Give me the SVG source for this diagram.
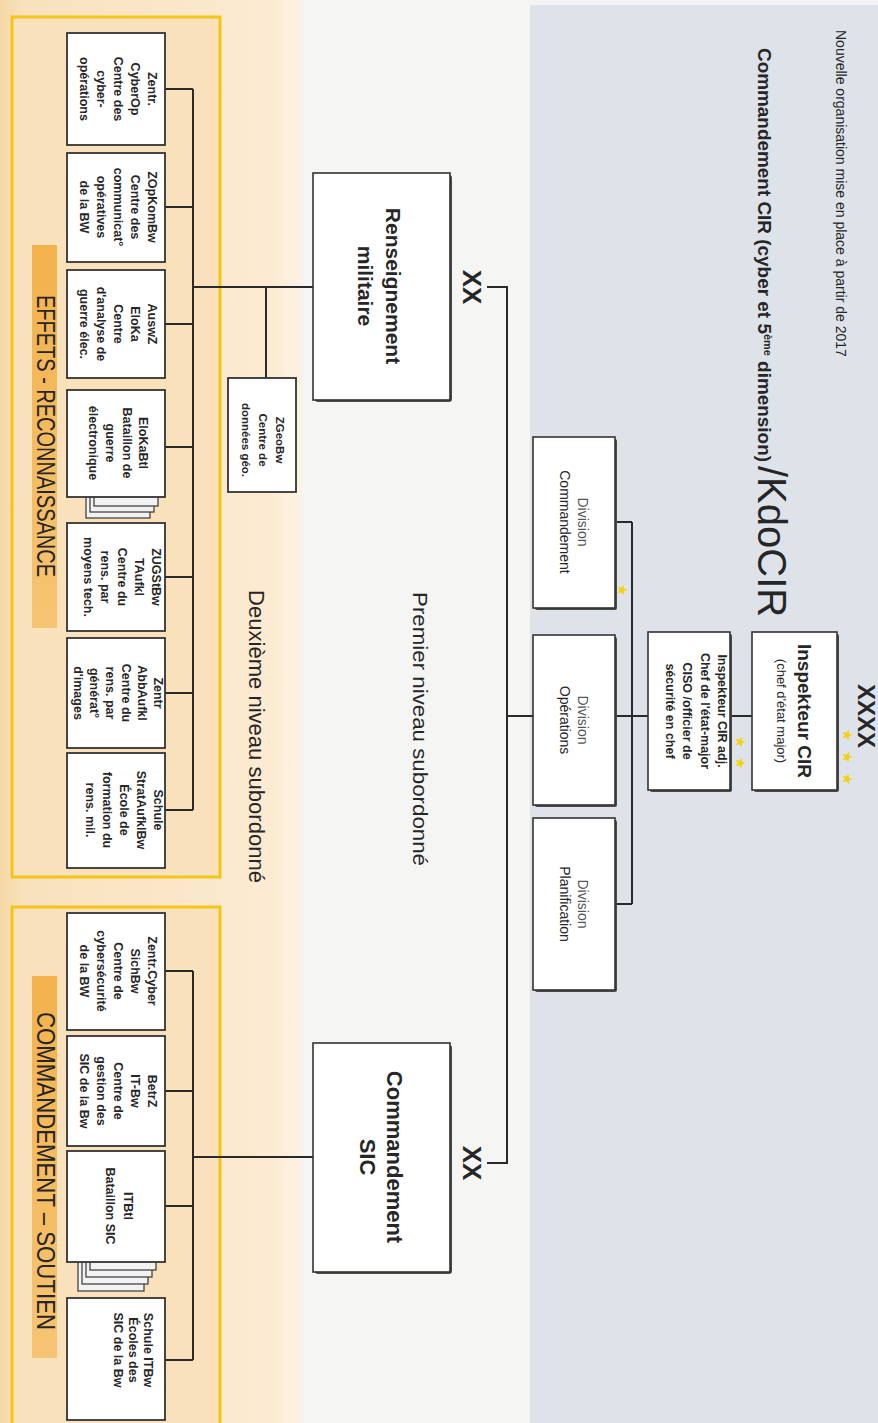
<svg xmlns="http://www.w3.org/2000/svg" width="878" height="1423" viewBox="0 0 878 1423">
<defs>
<linearGradient id="beige" x1="0" y1="0" x2="1" y2="0">
<stop offset="0" stop-color="#f5d8a6"/>
<stop offset="0.08" stop-color="#f8e1bc"/>
<stop offset="0.9" stop-color="#fcebd2"/>
<stop offset="1" stop-color="#fbf2e6"/>
</linearGradient>
<linearGradient id="orange" x1="0" y1="0" x2="0" y2="1">
<stop offset="0" stop-color="#f3b24c"/>
<stop offset="1" stop-color="#f6c473"/>
</linearGradient>
<path id="star" d="M0,-5.5 L1.35,-1.86 L5.23,-1.7 L2.19,0.71 L3.23,4.45 L0,2.3 L-3.23,4.45 L-2.19,0.71 L-5.23,-1.7 L-1.35,-1.86 Z"/>
<style>
.t{font-family:"Liberation Sans",Arial,sans-serif;fill:#262626}
.sm{font-size:12.5px;font-weight:bold}
.b{font-weight:bold}
.card{fill:#ffffff;stroke:#333;stroke-width:1.8}
.shd{fill:#4a4a4a}
.stack{fill:#f2f2f2;stroke:#444;stroke-width:1.3}
.box{fill:#ffffff;stroke:#333;stroke-width:1.6}
.ybox{fill:#f8e1bb;stroke:#f4c417;stroke-width:3}
.bar{fill:url(#orange)}
.con{fill:none;stroke:#2a2a2a;stroke-width:2}
.star{fill:#f7cf0a}
</style>
</defs>

<!-- background bands -->
<rect x="0" y="0" width="302" height="1423" fill="url(#beige)"/>
<rect x="302" y="0" width="228" height="1423" fill="#f5f5f4"/>
<rect x="530" y="0" width="348" height="1423" fill="#dee3e9"/>
<rect x="530" y="0" width="348" height="5" fill="#f3f4f6"/>

<!-- section frames -->
<g id="section-effets">
<rect class="ybox" x="12" y="17" width="208" height="860"/>
<rect class="bar" x="32" y="245" width="25" height="383"/>
<text class="t" font-size="26" transform="translate(37,436) rotate(90)" text-anchor="middle" textLength="282" lengthAdjust="spacingAndGlyphs" fill="#333">EFFETS - RECONNAISSANCE</text>
</g>
<g id="section-soutien">
<rect class="ybox" x="12" y="907" width="208" height="540"/>
<rect class="bar" x="32" y="976" width="25" height="382"/>
<text class="t" font-size="26" transform="translate(37,1171) rotate(90)" text-anchor="middle" textLength="318" lengthAdjust="spacingAndGlyphs" fill="#333">COMMANDEMENT – SOUTIEN</text>
</g>

<!-- level labels -->
<text id="lbl-deuxieme" class="t" font-size="22" transform="translate(249,590) rotate(90)" textLength="293" lengthAdjust="spacingAndGlyphs" fill="#333">Deuxième niveau subordonné</text>
<text id="lbl-premier" class="t" font-size="20" transform="translate(413,592) rotate(90)" textLength="274" lengthAdjust="spacingAndGlyphs" fill="#444">Premier niveau subordonné</text>

<!-- titles -->
<text id="note" class="t" font-size="14" fill="#8e8e8e" transform="translate(836,30) rotate(90)">Nouvelle organisation mise en place à partir de 2017</text>
<g id="title">
<text class="t b" font-size="19" fill="#1e1e1e" transform="translate(758,48) rotate(90)" textLength="414" lengthAdjust="spacingAndGlyphs">Commandement CIR (cyber et 5<tspan font-size="11" baseline-shift="super">ème</tspan> dimension)</text>
<text class="t" font-size="40" fill="#1e1e1e" transform="translate(758,466) rotate(90)">/KdoCIR</text>
</g>

<!-- connectors -->
<g id="connectors" class="con">
<path d="M165,89 H193 M165,207 H193 M165,324 H193 M165,447 H193 M165,577 H193 M165,693 H193 M165,810 H193 M193,89 V810 M193,287 H313 M266,287 V378"/>
<path d="M165,971 H193 M165,1091 H193 M165,1206 H193 M165,1360 H193 M193,971 V1360 M193,1157 H313"/>
<path d="M487,287 H507 V1163 H487 M507,716 H533"/>
<path d="M615,522 H632 M615,904 H632 M632,522 V904 M615,716 H648 M730,716 H752"/>
</g>

<!-- upper second-level cards -->
<g id="n-cyberop">
<rect class="card" x="67" y="33" width="98" height="112"/>
<text class="t sm" transform="translate(116,89) rotate(90)" text-anchor="middle"><tspan x="0" y="-31.5">Zentr.</tspan><tspan x="0" y="-14.5">CyberOp</tspan><tspan x="0" y="2.5">Centre des</tspan><tspan x="0" y="19.5">cyber-</tspan><tspan x="0" y="36.5">opérations</tspan></text>
</g>
<g id="n-zopkom">
<rect class="card" x="67" y="153" width="98" height="109"/>
<text class="t sm" transform="translate(116,207) rotate(90)" text-anchor="middle"><tspan x="0" y="-31.5">ZOpKomBw</tspan><tspan x="0" y="-14.5">Centre des</tspan><tspan x="0" y="2.5">communicat°</tspan><tspan x="0" y="19.5">opératives</tspan><tspan x="0" y="36.5">de la BW</tspan></text>
</g>
<g id="n-auswz">
<rect class="card" x="67" y="270" width="98" height="108"/>
<text class="t sm" transform="translate(116,324) rotate(90)" text-anchor="middle"><tspan x="0" y="-31.5">AuswZ</tspan><tspan x="0" y="-14.5">EloKa</tspan><tspan x="0" y="2.5">Centre</tspan><tspan x="0" y="19.5">d'analyse de</tspan><tspan x="0" y="36.5">guerre élec.</tspan></text>
</g>
<g id="n-elokabtl">
<rect class="stack" x="86" y="478" width="64" height="40"/>
<rect class="stack" x="90" y="472" width="64" height="40"/>
<rect class="stack" x="94" y="466" width="64" height="40"/>
<rect class="card" x="67" y="390" width="98" height="107"/>
<text class="t sm" transform="translate(116,443) rotate(90)" text-anchor="middle"><tspan x="0" y="-22.5">EloKaBtl</tspan><tspan x="0" y="-6.5">Bataillon de</tspan><tspan x="0" y="10.5">guerre</tspan><tspan x="0" y="27.5">électronique</tspan></text>
</g>
<g id="n-zugst">
<rect class="card" x="67" y="523" width="98" height="108"/>
<text class="t sm" transform="translate(116,577) rotate(90)" text-anchor="middle"><tspan x="0" y="-35.5">ZUGStBw</tspan><tspan x="0" y="-18.5">TAufkl</tspan><tspan x="0" y="-1.5">Centre du</tspan><tspan x="0" y="15.5">rens. par</tspan><tspan x="0" y="32.5">moyens tech.</tspan></text>
</g>
<g id="n-abbaufkl">
<rect class="card" x="67" y="638" width="98" height="110"/>
<text class="t sm" transform="translate(116,693) rotate(90)" text-anchor="middle"><tspan x="0" y="-37.5">Zentr</tspan><tspan x="0" y="-21.5">AbbAufkl</tspan><tspan x="0" y="-5.5">Centre du</tspan><tspan x="0" y="10.5">rens. par</tspan><tspan x="0" y="26.5">générat°</tspan><tspan x="0" y="42.5">d'images</tspan></text>
</g>
<g id="n-schule-strat">
<rect class="card" x="67" y="753" width="98" height="115"/>
<text class="t sm" transform="translate(116,810) rotate(90)" text-anchor="middle"><tspan x="0" y="-37.5">Schule</tspan><tspan x="0" y="-20.5">StratAufklBw</tspan><tspan x="0" y="-3.5">École de</tspan><tspan x="0" y="13.5">formation du</tspan><tspan x="0" y="30.5">rens. mil.</tspan></text>
</g>
<g id="n-zgeobw">
<rect class="card" x="228" y="378" width="68" height="114"/>
<text class="t b" font-size="11.5" transform="translate(262,440) rotate(90)" text-anchor="middle"><tspan x="0" y="-13.8">ZGeoBw</tspan><tspan x="0" y="3.2">Centre de</tspan><tspan x="0" y="20.2">données géo.</tspan></text>
</g>

<!-- lower second-level cards -->
<g id="n-cybersich">
<rect class="card" x="67" y="913" width="98" height="117"/>
<text class="t sm" transform="translate(116,971) rotate(90)" text-anchor="middle"><tspan x="0" y="-31.5">Zentr.Cyber</tspan><tspan x="0" y="-14.5">SichBw</tspan><tspan x="0" y="2.5">Centre de</tspan><tspan x="0" y="19.5">cybersécurité</tspan><tspan x="0" y="36.5">de la BW</tspan></text>
</g>
<g id="n-betrz">
<rect class="card" x="67" y="1036" width="98" height="110"/>
<text class="t sm" transform="translate(116,1091) rotate(90)" text-anchor="middle"><tspan x="0" y="-31.5">BetrZ</tspan><tspan x="0" y="-14.5">IT-Bw</tspan><tspan x="0" y="2.5">Centre de</tspan><tspan x="0" y="19.5">gestion des</tspan><tspan x="0" y="36.5">SIC de la Bw</tspan></text>
</g>
<g id="n-itbtl">
<rect class="stack" x="78" y="1251" width="66" height="40"/>
<rect class="stack" x="82" y="1244" width="66" height="40"/>
<rect class="stack" x="86" y="1237" width="66" height="40"/>
<rect class="stack" x="90" y="1230" width="66" height="40"/>
<rect class="card" x="67" y="1151" width="98" height="111"/>
<text class="t sm" transform="translate(116,1206) rotate(90)" text-anchor="middle"><tspan x="0" y="-7.5">ITBtl</tspan><tspan x="0" y="10.5">Bataillon SIC</tspan></text>
</g>
<g id="n-schule-it">
<rect class="card" x="67" y="1298" width="98" height="122"/>
<text class="t sm" transform="translate(116,1350) rotate(90)" text-anchor="middle"><tspan x="0" y="-27.5">Schule ITBw</tspan><tspan x="0" y="-12.5">Écoles des</tspan><tspan x="0" y="2.5">SIC de la Bw</tspan></text>
</g>

<!-- first level -->
<g id="n-renseignement">
<rect class="shd" x="315" y="175" width="137" height="227" rx="3"/>
<rect class="box" x="313" y="173" width="137" height="227"/>
<text class="t b" font-size="21" transform="translate(381,286) rotate(90)" text-anchor="middle"><tspan x="0" y="-4.6">Renseignement</tspan><tspan x="0" y="23.4">militaire</tspan></text>
<text class="t b" font-size="26" transform="translate(472,287) rotate(90)" text-anchor="middle" y="9.1">XX</text>
</g>
<g id="n-cmdsic">
<rect class="shd" x="315" y="1045" width="137" height="229" rx="3"/>
<rect class="box" x="313" y="1043" width="137" height="229"/>
<text class="t b" font-size="22" transform="translate(381,1157) rotate(90)" text-anchor="middle"><tspan x="0" y="-6.3">Commandement</tspan><tspan x="0" y="20.7">SIC</tspan></text>
<text class="t b" font-size="26" transform="translate(472,1163) rotate(90)" text-anchor="middle" y="9.1">XX</text>
</g>

<!-- divisions -->
<g id="n-div-cmd">
<rect class="shd" x="535" y="439" width="82" height="171" rx="2"/>
<rect class="box" x="533" y="437" width="82" height="171"/>
<text class="t" font-size="14" transform="translate(574,522) rotate(90)" text-anchor="middle"><tspan x="0" y="-4" fill="#555">Division</tspan><tspan x="0" y="14">Commandement</tspan></text>
</g>
<g id="n-div-ops">
<rect class="shd" x="535" y="637" width="82" height="170" rx="2"/>
<rect class="box" x="533" y="635" width="82" height="170"/>
<text class="t" font-size="14" transform="translate(574,720) rotate(90)" text-anchor="middle"><tspan x="0" y="-4" fill="#555">Division</tspan><tspan x="0" y="14">Opérations</tspan></text>
</g>
<g id="n-div-plan">
<rect class="shd" x="535" y="820" width="82" height="172" rx="2"/>
<rect class="box" x="533" y="818" width="82" height="172"/>
<text class="t" font-size="14" transform="translate(574,904) rotate(90)" text-anchor="middle"><tspan x="0" y="-4" fill="#555">Division</tspan><tspan x="0" y="14">Planification</tspan></text>
</g>

<!-- command -->
<g id="n-adj">
<rect class="shd" x="650" y="634" width="82" height="158" rx="2"/>
<rect class="box" x="648" y="632" width="82" height="158"/>
<text class="t b" font-size="12.5" transform="translate(689,711) rotate(90)" text-anchor="middle"><tspan x="0" y="-28.6">Inspekteur CIR adj.</tspan><tspan x="0" y="-11.6">Chef de l'état-major</tspan><tspan x="0" y="6.4">CISO /officier de</tspan><tspan x="0" y="23.4">sécurité en chef</tspan></text>
</g>
<g id="n-inspekteur">
<rect class="shd" x="754" y="634" width="85" height="158" rx="2"/>
<rect class="box" x="752" y="632" width="85" height="158"/>
<text class="t" transform="translate(795,711) rotate(90)" text-anchor="middle"><tspan class="b" font-size="19" x="0" y="-3.3">Inspekteur CIR</tspan><tspan font-size="13" x="0" y="18.5">(chef d'état major)</tspan></text>
<text class="t b" font-size="24" transform="translate(866,716) rotate(90)" text-anchor="middle" y="8.4">XXXX</text>
</g>

<!-- stars -->
<g id="stars" class="star">
<use href="#star" transform="translate(622,590) rotate(90)"/>
<use href="#star" transform="translate(740,742) rotate(90)"/>
<use href="#star" transform="translate(740,763) rotate(90)"/>
<use href="#star" transform="translate(847,735) rotate(90)"/>
<use href="#star" transform="translate(847,757) rotate(90)"/>
<use href="#star" transform="translate(847,779) rotate(90)"/>
</g>
</svg>
